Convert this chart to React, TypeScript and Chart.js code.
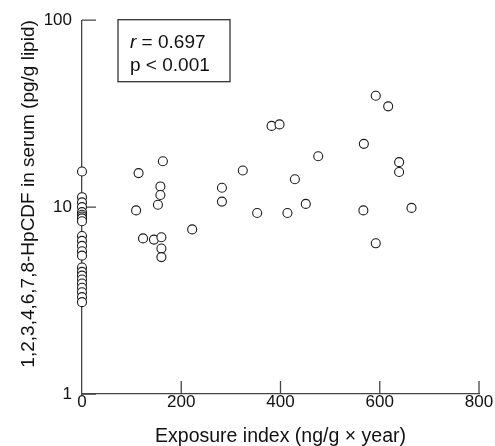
import React, { useEffect, useRef } from "react";
import { Chart, registerables } from "chart.js";

Chart.register(...registerables);

// Values at exposure index 0 (unexposed group)
const unexposedHpCDF = [15.5, 11.3, 10.6, 10.0, 9.4, 9.1, 8.9, 8.7, 8.4, 7.0, 6.6, 6.2, 5.8, 5.5, 4.75, 4.5, 4.3, 4.1, 3.9, 3.7, 3.5, 3.3, 3.1];
// Exposed group
const exposureIndex = [109, 114, 123, 145, 153, 158, 158, 160, 160, 160, 163, 222, 282, 282, 324, 353, 382, 398, 414, 429, 451, 476, 567, 568, 592, 592, 617, 639, 639, 664];
const exposedHpCDF = [9.6, 15.2, 6.8, 6.7, 10.3, 12.9, 11.6, 6.9, 6.0, 5.4, 17.6, 7.6, 12.7, 10.7, 15.7, 9.3, 27.2, 27.7, 9.3, 14.1, 10.4, 18.7, 9.6, 21.8, 39.4, 6.4, 34.6, 17.4, 15.4, 9.9];

const xTicks = [0, 200, 400, 600, 800];
const yTicks = [1, 10, 100];
const xTitle = "Exposure index (ng/g \u00d7 year)";
const yTitle = "1,2,3,4,6,7,8-HpCDF in serum (pg/g lipid)";
const statR = "0.697";
const statP = "p < 0.001";

const FONT = "'Liberation Sans', Arial, sans-serif";
const AXIS = "#444";

const innerTicks = {
  id: "innerTicks",
  afterDraw(chart: any) {
    const { ctx, chartArea, scales } = chart;
    ctx.save();
    ctx.strokeStyle = AXIS;
    ctx.lineWidth = 1.3;
    ctx.beginPath();
    xTicks.forEach((v) => {
      if (v === 0) return;
      const px = scales.x.getPixelForValue(v);
      ctx.moveTo(px, chartArea.bottom);
      ctx.lineTo(px, chartArea.bottom - 13);
    });
    yTicks.forEach((v) => {
      const py = scales.y.getPixelForValue(v);
      ctx.moveTo(chartArea.left + (v === 10 ? 5 : 0), py);
      ctx.lineTo(chartArea.left + 14, py);
    });
    ctx.stroke();

    // statistics box
    const bx = chartArea.left + 36;
    const by = chartArea.top - 0.5;
    const bw = 112;
    const bh = 62;
    ctx.lineWidth = 1.3;
    ctx.strokeStyle = "#333";
    ctx.strokeRect(bx, by, bw, bh);
    ctx.fillStyle = "#111";
    ctx.textBaseline = "alphabetic";
    ctx.textAlign = "left";
    ctx.font = `italic 19px ${FONT}`;
    ctx.fillText("r", bx + 12, by + 28);
    const rw = ctx.measureText("r").width;
    ctx.font = `19px ${FONT}`;
    ctx.fillText(` = ${statR}`, bx + 12 + rw, by + 28);
    ctx.fillText(statP, bx + 12, by + 51);
    ctx.restore();
  },
};

export default function App() {
  const ref = useRef<HTMLCanvasElement>(null);
  useEffect(() => {
    if (!ref.current) return;
    const points = [
      ...unexposedHpCDF.map((y) => ({ x: 0, y })),
      ...exposureIndex.map((x, i) => ({ x, y: exposedHpCDF[i] })),
    ];
    const chart = new Chart(ref.current, {
      type: "scatter",
      data: {
        datasets: [
          {
            data: points,
            pointRadius: 4.5,
            pointBorderWidth: 1.1,
            pointBorderColor: "#1a1a1a",
            pointBackgroundColor: "#fff",
            clip: false as any,
          },
        ],
      },
      options: {
        animation: false,
        responsive: false,
        layout: { padding: { top: 18, right: 16, left: 0, bottom: 0 } },
        plugins: { legend: { display: false }, tooltip: { enabled: false } },
        scales: {
          x: {
            type: "linear",
            min: 0,
            max: 800,
            afterBuildTicks: (s: any) => {
              s.ticks = xTicks.map((v) => ({ value: v }));
            },
            afterFit: (s: any) => {
              s.height = 52;
            },
            grid: { display: false, drawTicks: false },
            border: { display: true, color: AXIS, width: 1.3 },
            ticks: {
              color: "#111",
              font: { family: FONT, size: 17 },
              padding: -2,
              maxRotation: 0,
              callback: (v: any) => String(v),
            },
            title: {
              display: true,
              text: xTitle,
              color: "#111",
              font: { family: FONT, size: 19.5, lineHeight: 1 },
              padding: { top: 0, bottom: 0 },
            },
          },
          y: {
            type: "logarithmic",
            min: 1,
            max: 100,
            afterBuildTicks: (s: any) => {
              s.ticks = yTicks.map((v) => ({ value: v, major: true }));
            },
            afterFit: (s: any) => {
              s.width = 82;
            },
            grid: { display: false, drawTicks: false },
            border: { display: true, color: AXIS, width: 1.3 },
            ticks: {
              color: "#111",
              font: { family: FONT, size: 17 },
              padding: 10,
              callback: (v: any) => String(v),
            },
            title: {
              display: true,
              text: yTitle,
              align: "end",
              color: "#111",
              font: { family: FONT, size: 19, lineHeight: 1 },
              padding: { top: 19, bottom: 0 },
            },
          },
        },
      },
      plugins: [innerTicks],
    });
    return () => chart.destroy();
  }, []);
  return (
    <div style={{ position: "fixed", left: 0, top: 0, width: 495, height: 446, background: "#fff" }}>
      <canvas ref={ref} width={495} height={446} />
    </div>
  );
}
